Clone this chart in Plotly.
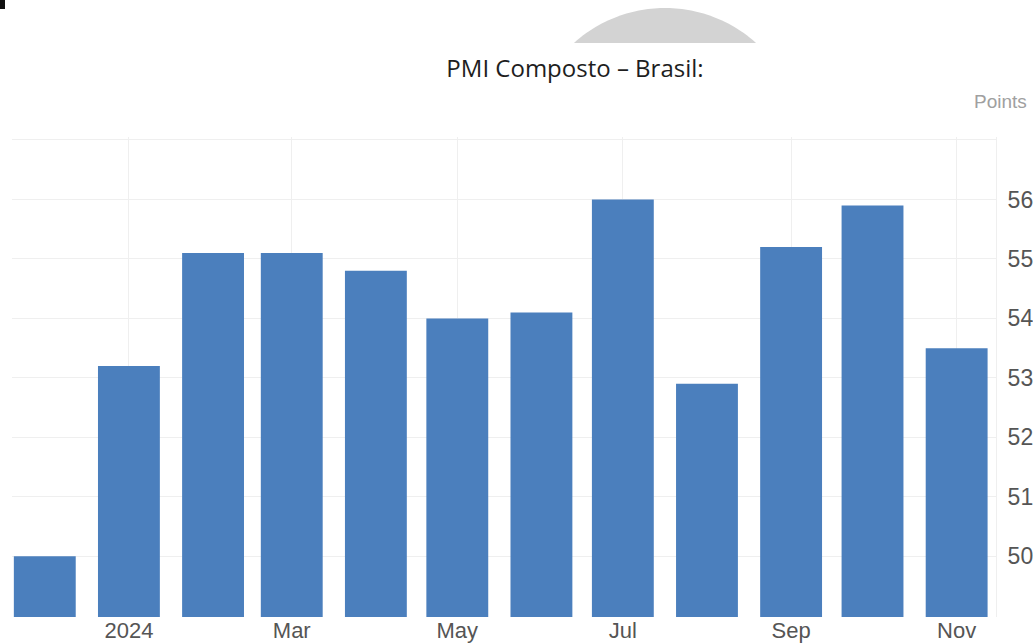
import numpy as np
import plotly.graph_objects as go

months = ["2023-12-01", "2024-01-01", "2024-02-01", "2024-03-01", "2024-04-01", "2024-05-01",
          "2024-06-01", "2024-07-01", "2024-08-01", "2024-09-01", "2024-10-01", "2024-11-01"]
pmi = [50.0, 53.2, 55.1, 55.1, 54.8, 54.0, 54.1, 56.0, 52.9, 55.2, 55.9, 53.5]

tick_dates = ["2024-01-01", "2024-03-01", "2024-05-01", "2024-07-01", "2024-09-01", "2024-11-01"]
tick_text = ["2024", "Mar", "May", "Jul", "Sep", "Nov"]
y_ticks = [50, 51, 52, 53, 54, 55, 56, 57]
y_text = ["50", "51", "52", "53", "54", "55", "56", ""]

W, H = 1033, 644
L, R, T, B = 12, 37, 137, 27
pw, ph = W - L - R, H - T - B

DAY = 86400000

fig = go.Figure(go.Bar(
    x=months, y=pmi,
    width=22.8 * DAY,
    marker=dict(color="#4b7fbd", line=dict(width=0)),
))


def to_paper(px, py):
    return (px - L) / pw, (H - B - py) / ph


# grey dome at top (decoration)
cx, cy, r, cut = 665, 144, 136, 43
half = np.sqrt(r ** 2 - (cy - cut) ** 2)
xs = np.linspace(cx - half, cx + half, 60)
ys = cy - np.sqrt(np.maximum(r ** 2 - (xs - cx) ** 2, 0))
pts = [to_paper(a, b) for a, b in zip(xs, ys)]
path = "M " + " L ".join(f"{a:.5f},{b:.5f}" for a, b in pts) + " Z"

fig.add_shape(type="path", path=path, xref="paper", yref="paper",
              fillcolor="#d3d3d3", line=dict(width=0), layer="below")

x0, y0 = to_paper(0, 0)
x1, y1 = to_paper(5, 9)
fig.add_shape(type="rect", xref="paper", yref="paper", x0=x0, x1=x1, y0=y1, y1=y0,
              fillcolor="#111", line=dict(width=0))

fig.add_annotation(text="Points", xref="paper", yref="paper",
                   x=(1029 - L) / pw, y=(H - B - 102) / ph, xanchor="right", yanchor="middle",
                   showarrow=False, font=dict(family="Liberation Sans", size=19, color="#a0a0a0"))

fig.update_layout(
    width=W, height=H,
    margin=dict(l=L, r=R, t=T, b=B, autoexpand=False),
    paper_bgcolor="white", plot_bgcolor="white",
    showlegend=False,
    title=dict(text="PMI Composto – Brasil:", x=575 / W, xanchor="center",
               y=1 - 69 / H, yanchor="middle",
               font=dict(family="Open Sans", size=24, color="#1e1e1e")),
    font=dict(family="Liberation Sans", size=23, color="#555"),
)

fig.update_xaxes(
    type="date",
    range=["2023-11-18 22:00", "2024-11-15 12:00"],
    tickvals=tick_dates, ticktext=tick_text,
    showgrid=True, gridcolor="#efefef", gridwidth=1,
    showline=False, zeroline=False, ticks="",
    ticklabelstandoff=-2,
    tickfont=dict(size=22, color="#555"),
)

fig.update_yaxes(
    side="right",
    range=[48.98, 57.05],
    tickvals=y_ticks, ticktext=y_text,
    showgrid=True, gridcolor="#efefef", gridwidth=1,
    showline=True, linecolor="#efefef", zeroline=False, ticks="",
    ticklabelstandoff=6,
    tickfont=dict(size=23, color="#555"),
)

fig.write_html("out.html", config={"displayModeBar": False},
               post_script="document.body.style.margin='0';document.body.style.overflow='hidden';")
